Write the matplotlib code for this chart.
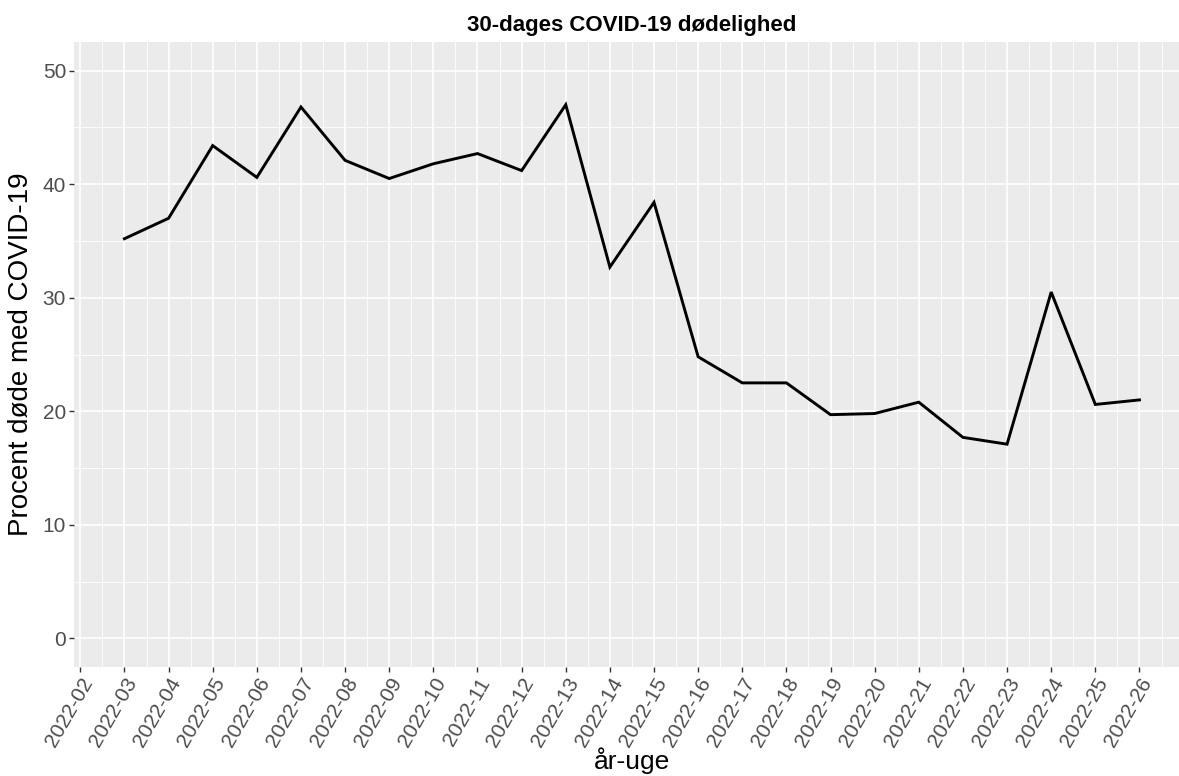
import matplotlib.pyplot as plt
import numpy as np
from matplotlib.ticker import MultipleLocator

plt.rcParams['font.family'] = ['Liberation Sans', 'DejaVu Sans']

# x-akse: uge-etiketter (2022-02 .. 2022-26)
uger_akse = [f'2022-{u:02d}' for u in range(2, 27)]

# data: uger med observationer og 30-dages dødelighed i procent
uger = [f'2022-{u:02d}' for u in range(3, 27)]
procent = [35.2, 37.0, 43.4, 40.6, 46.8, 42.1, 40.5, 41.8, 42.7, 41.2,
           47.0, 32.7, 38.4, 24.8, 22.5, 22.5, 19.7, 19.8, 20.8, 17.7,
           17.1, 30.5, 20.6, 21.0]

y_breaks = [0, 10, 20, 30, 40, 50]

W, H = 1179, 776
fig = plt.figure(figsize=(W / 100, H / 100), dpi=100)

# panel placeret i pixels (ggplot-agtigt)
x0, x1, y_top, y_bot = 73.7, 1190.2, 42.3, 666.7
ax = fig.add_axes([x0 / W, 1 - y_bot / H, (x1 - x0) / W, (y_bot - y_top) / H])

xpos = np.array([uger_akse.index(u) for u in uger])
ax.plot(xpos, procent, color='black', linewidth=2.1, solid_joinstyle='miter')

# ggplot-udvidelse: 5 % på hver side
xr = xpos.max() - xpos.min()
ax.set_xlim(xpos.min() - 0.05 * xr, xpos.max() + 0.05 * xr)
ax.set_ylim(-2.5, 52.5)

ax.set_facecolor('#EBEBEB')
for s in ax.spines.values():
    s.set_visible(False)

ax.set_xticks(range(len(uger_akse)))
ax.set_xticklabels(uger_akse)
ax.xaxis.set_minor_locator(MultipleLocator(0.5))
ax.set_yticks(y_breaks)
ax.yaxis.set_minor_locator(MultipleLocator(5))

ax.grid(True, which='major', color='white', linewidth=1.2)
ax.grid(True, which='minor', color='white', linewidth=0.6)
ax.set_axisbelow(True)

ax.tick_params(axis='both', which='major', color='#333333', length=3.5, width=1.0,
               labelsize=15, labelcolor='#4D4D4D', pad=2)
ax.tick_params(axis='both', which='minor', length=0)
for lab in ax.get_xticklabels():
    lab.set_rotation(60)
    lab.set_ha('right')
    lab.set_va('top')
    lab.set_rotation_mode('anchor')

ax.set_ylabel('Procent døde med COVID-19', fontsize=20)
ax.set_xlabel('år-uge', fontsize=19)
ax.yaxis.set_label_coords((34 - x0) / (x1 - x0), 0.5)
ax.xaxis.set_label_coords(0.5, (y_bot - 747) / (y_bot - y_top))

fig.text((x0 + x1) / 2 / W, 1 - 25 / H, '30-dages COVID-19 dødelighed',
         ha='center', va='center', fontsize=16, fontweight='bold')

fig.savefig('out.png', dpi=100)
